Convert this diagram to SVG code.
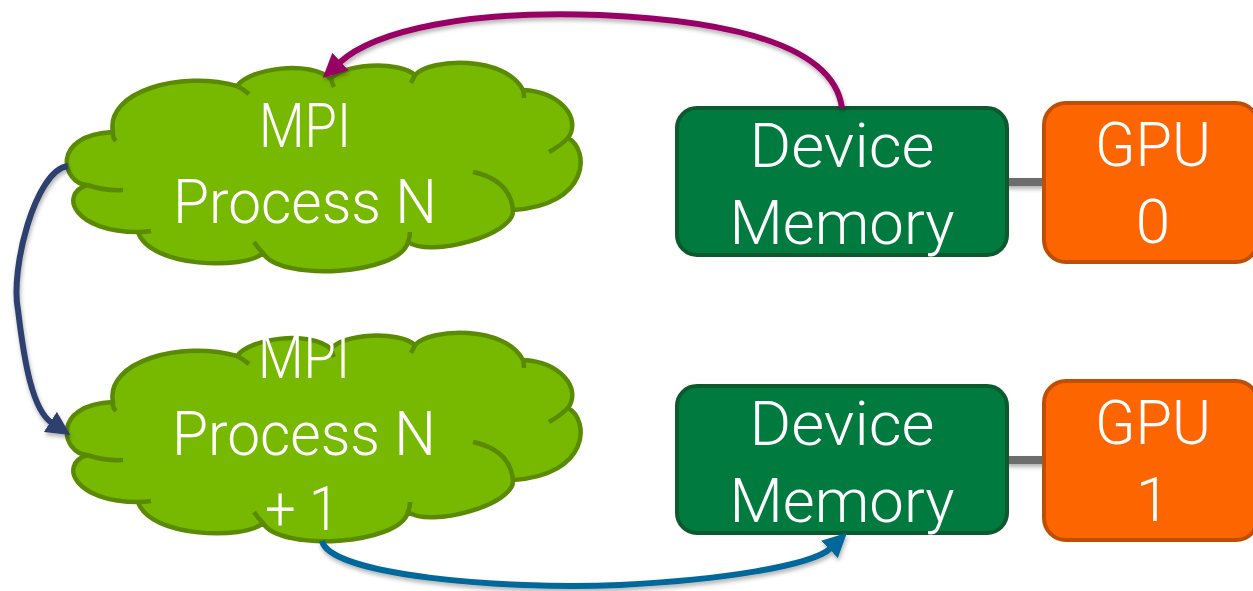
<svg xmlns="http://www.w3.org/2000/svg" xmlns:xlink="http://www.w3.org/1999/xlink" width="1253" height="591" viewBox="0 0 1253 591">
  <style>
    .cloud-fill { fill: #76b900; stroke: #5a8a00; stroke-width: 4.5; stroke-linejoin: round; }
    .cloud-crease { fill: none; stroke: #5a8a00; stroke-width: 4.5; stroke-linecap: butt; }
    .mem { fill: #007a3e; stroke: #0b5a2e; stroke-width: 4; }
    .gpu { fill: #fd6500; stroke: #c04e00; stroke-width: 4; }
    .label { font-family: Roboto, "Liberation Sans", Arial, sans-serif; font-weight: 300; font-size: 62px; fill: #ffffff; text-anchor: middle; }
    .link { stroke: #6d6d6d; stroke-width: 8; fill: none; }
    .arrow { fill: none; stroke-width: 6; stroke-linecap: butt; }
  </style>
  <defs>
    <filter id="shadow" x="-10%" y="-10%" width="120%" height="130%">
      <feDropShadow dx="1" dy="3" stdDeviation="2" flood-color="#000000" flood-opacity="0.3"/>
    </filter>
    <marker id="headPurple" viewBox="0 0 24 24" refX="2" refY="12" markerWidth="24" markerHeight="24" markerUnits="userSpaceOnUse" orient="auto">
      <path d="M0,0 L24,12 L0,24 z" fill="#990066"/>
    </marker>
    <marker id="headNavy" viewBox="0 0 24 24" refX="2" refY="12" markerWidth="24" markerHeight="24" markerUnits="userSpaceOnUse" orient="auto">
      <path d="M0,0 L24,12 L0,24 z" fill="#2d3f6e"/>
    </marker>
    <marker id="headBlue" viewBox="0 0 24 24" refX="2" refY="12" markerWidth="24" markerHeight="24" markerUnits="userSpaceOnUse" orient="auto">
      <path d="M0,0 L24,12 L0,24 z" fill="#00679a"/>
    </marker>
    <!-- cloud outline built from eleven lobes, plus the inner crease strokes -->
    <g id="cloudShape">
      <path class="cloud-fill" d="M 87 185
        C 62 183, 50 135, 113 132
        C 105 92, 180 70, 237 86
        C 250 68, 310 60, 331 79
        C 342 64, 398 60, 415 75
        C 430 58, 505 55, 523 90
        C 560 92, 582 118, 568 138
        C 590 150, 590 205, 513 210
        C 515 235, 430 258, 408 242
        C 400 275, 280 282, 263 253
        C 245 270, 150 268, 138 232
        C 75 232, 58 195, 87 185 Z"/>
      <path class="cloud-crease" d="M 113 132 Q 112 137 116 141
        M 237 86 Q 243 89 249 94
        M 331 79 Q 332 83 334 87
        M 415 75 Q 413 79 411 83
        M 523 90 Q 524 94 524 98
        M 568 138 Q 560 146 549 152
        M 513 210 Q 510 180 473 172
        M 408 242 Q 410 237 410 232
        M 263 253 Q 258 248 254 242
        M 138 232 Q 145 232 151 231
        M 87 185 Q 105 191 123 190"/>
    </g>
  </defs>

  <rect width="1253" height="591" fill="#ffffff"/>

  <!-- links between memory and GPU -->
  <g id="links" filter="url(#shadow)">
    <line class="link" x1="1006" y1="182" x2="1045" y2="182"/>
    <line class="link" x1="1006" y1="460" x2="1045" y2="460"/>
  </g>

  <g id="mpi-n">
    <use xlink:href="#cloudShape"/>
    <text class="label" x="305" y="147" textLength="92" lengthAdjust="spacingAndGlyphs">MPI</text>
    <text class="label" x="305" y="223" textLength="264" lengthAdjust="spacingAndGlyphs">Process N</text>
  </g>

  <g id="mpi-n1">
    <use xlink:href="#cloudShape" transform="translate(0,270)"/>
    <text class="label" x="304" y="378" textLength="92" lengthAdjust="spacingAndGlyphs">MPI</text>
    <text class="label" x="304" y="455" textLength="264" lengthAdjust="spacingAndGlyphs">Process N</text>
    <text class="label" x="302" y="530" textLength="74" lengthAdjust="spacingAndGlyphs">+ 1</text>
  </g>

  <g id="mem-0">
    <rect class="mem" x="677" y="108" width="330" height="147" rx="20"/>
    <text class="label" x="842" y="167" textLength="185" lengthAdjust="spacingAndGlyphs">Device</text>
    <text class="label" x="842" y="244" textLength="225" lengthAdjust="spacingAndGlyphs">Memory</text>
  </g>

  <g id="gpu-0">
    <rect class="gpu" x="1044" y="103" width="214" height="159" rx="22"/>
    <text class="label" x="1153" y="166" textLength="116" lengthAdjust="spacingAndGlyphs">GPU</text>
    <text class="label" x="1153" y="243">0</text>
  </g>

  <g id="mem-1">
    <rect class="mem" x="677" y="386" width="330" height="147" rx="20"/>
    <text class="label" x="842" y="445" textLength="185" lengthAdjust="spacingAndGlyphs">Device</text>
    <text class="label" x="842" y="522" textLength="225" lengthAdjust="spacingAndGlyphs">Memory</text>
  </g>

  <g id="gpu-1">
    <rect class="gpu" x="1044" y="381" width="214" height="159" rx="22"/>
    <text class="label" x="1153" y="444" textLength="116" lengthAdjust="spacingAndGlyphs">GPU</text>
    <text class="label" x="1153" y="521">1</text>
  </g>

  <g id="connectors" filter="url(#shadow)">
    <path class="arrow" stroke="#990066" marker-end="url(#headPurple)"
      d="M 842 108 C 835 55, 760 22, 600 15 C 470 10, 375 30, 339 63"/>
    <path class="arrow" stroke="#2d3f6e" marker-end="url(#headNavy)"
      d="M 68 166 C 35 170, 10 270, 18 310 C 24 360, 32 410, 52 423"/>
    <path class="arrow" stroke="#00679a" marker-end="url(#headBlue)"
      d="M 322 541 C 330 575, 500 590, 620 585 C 720 580, 812 566, 831 548"/>
  </g>
</svg>
